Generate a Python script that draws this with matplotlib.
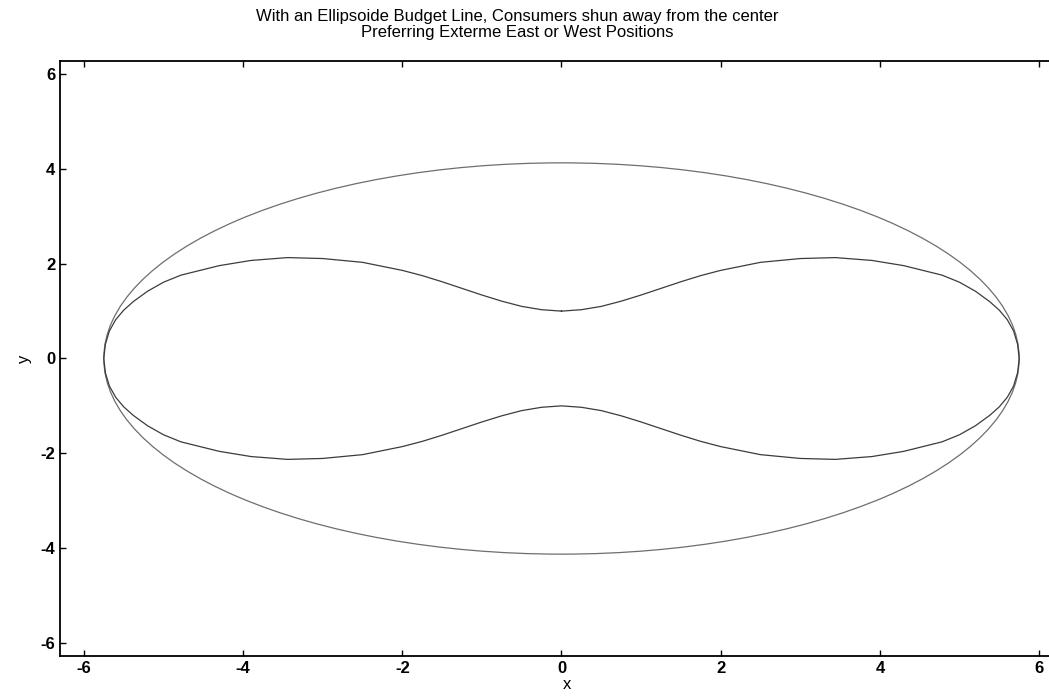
import numpy as np
import matplotlib.pyplot as plt
from matplotlib.patches import Ellipse

plt.rcParams['font.family'] = ['Liberation Sans', 'DejaVu Sans']
plt.rcParams['axes.unicode_minus'] = False

# budget ellipse semi-axes
budget_a = 5.75
budget_b = 4.13

# inner (preferred) curve, upper-right quarter
inner_x = [0.0, 0.25, 0.5, 0.75, 1.0, 1.25, 1.5, 1.75, 2.0, 2.5, 3.0, 3.44,
           3.9, 4.3, 4.78, 5.0, 5.2, 5.38, 5.5, 5.6, 5.68, 5.73, 5.75]
inner_y = [1.00, 1.03, 1.10, 1.21, 1.34, 1.48, 1.62, 1.75, 1.86, 2.03, 2.11, 2.13,
           2.07, 1.96, 1.76, 1.61, 1.42, 1.20, 1.02, 0.82, 0.58, 0.30, 0.0]

ticks = [-6, -4, -2, 0, 2, 4, 6]

# full closed curve by mirroring the quarter across both axes
qx = np.array(inner_x)
qy = np.array(inner_y)
cx = np.concatenate([qx, qx[::-1], -qx, -qx[::-1]])
cy = np.concatenate([qy, -qy[::-1], -qy, qy[::-1]])

fig = plt.figure(figsize=(10.49, 6.98), dpi=100)
ax = fig.add_axes([0.0572, 0.0602, 0.9675, 0.8524])

ax.add_patch(Ellipse((0, 0), 2 * budget_a, 2 * budget_b, fill=False,
                     edgecolor='#6e6e6e', linewidth=0.9))
ax.plot(cx, cy, color='#3c3c3c', linewidth=0.9)

ax.set_xlim(-6.3, 6.45)
ax.set_ylim(-6.28, 6.28)
ax.set_xticks(ticks)
ax.set_yticks(ticks)
ax.tick_params(direction='in', length=4, width=1, labelsize=12, top=True, right=True)
for lab in ax.get_xticklabels() + ax.get_yticklabels():
    lab.set_fontweight('bold')
for s in ax.spines.values():
    s.set_linewidth(1.3)

ax.set_xlabel('x', fontsize=12, labelpad=1)
ax.set_ylabel('y', fontsize=12, rotation=90, labelpad=6)

fig.text(517 / 1049, 1 - 17 / 698, 'With an Ellipsoide Budget Line, Consumers shun away from the center',
         ha='center', va='center', fontsize=12)
fig.text(517 / 1049, 1 - 33 / 698, 'Preferring Exterme East or West Positions',
         ha='center', va='center', fontsize=12)

fig.savefig('out.png', dpi=100)
